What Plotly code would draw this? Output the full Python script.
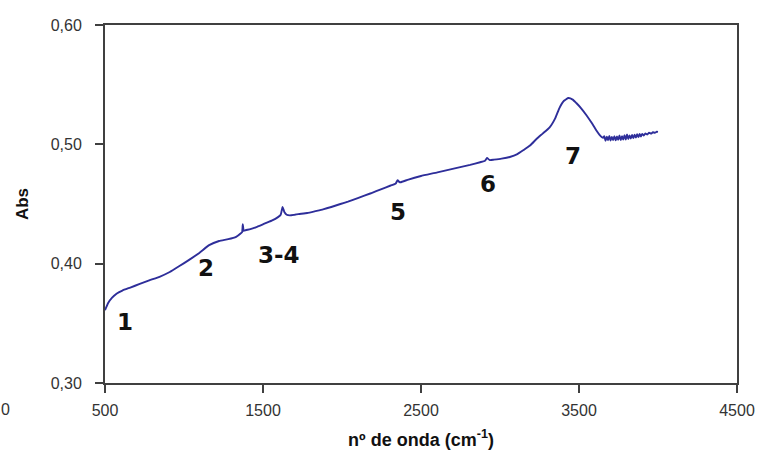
import plotly.graph_objects as go

# FTIR spectrum: wavenumber (cm-1) vs absorbance
wavenumber = [500, 520, 545, 575, 610, 660, 720, 780, 845, 910, 971, 1030, 1097, 1159,
              1222, 1280, 1330, 1360, 1368, 1372, 1378, 1390, 1420, 1454, 1500, 1555,
              1595, 1612, 1624, 1636, 1650, 1670, 1700, 1724, 1780, 1831, 1880, 1932,
              1990, 2038, 2100, 2183, 2250, 2308, 2340, 2352, 2362, 2371, 2420, 2500,
              2604, 2700, 2811, 2874, 2905, 2918, 2935, 2962, 3010, 3062, 3110, 3150,
              3190, 3231, 3270, 3313, 3350, 3376, 3405, 3433, 3460, 3483, 3515, 3546,
              3580, 3608, 3630, 3652,
              3660, 3668, 3676, 3684, 3692, 3700, 3708, 3716, 3724, 3732, 3740, 3748,
              3756, 3764, 3772, 3780, 3788, 3796, 3804, 3812, 3820, 3828, 3836, 3844,
              3852, 3860, 3868, 3876, 3884, 3892, 3900, 3910, 3920, 3932, 3944, 3956,
              3968, 3980, 3992, 4000]
absorbance = [0.361, 0.367, 0.3715, 0.375, 0.3775, 0.380, 0.383, 0.386, 0.389, 0.393,
              0.398, 0.403, 0.409, 0.4155, 0.419, 0.4205, 0.4225, 0.4255, 0.4265, 0.433,
              0.4275, 0.428, 0.429, 0.4305, 0.433, 0.436, 0.439, 0.441, 0.4475, 0.443,
              0.441, 0.4405, 0.441, 0.4415, 0.4425, 0.444, 0.4455, 0.4475, 0.450, 0.452,
              0.455, 0.459, 0.4625, 0.4655, 0.4672, 0.4700, 0.4685, 0.4682, 0.4705,
              0.4735, 0.4765, 0.4795, 0.4828, 0.485, 0.4862, 0.4885, 0.4868, 0.4872,
              0.488, 0.4894, 0.4918, 0.4953, 0.4990, 0.5045, 0.509, 0.514, 0.522,
              0.5304, 0.5365, 0.5388, 0.5375, 0.5346, 0.530, 0.5246, 0.518, 0.512,
              0.508, 0.5055,
              0.5068, 0.5030, 0.5064, 0.5034, 0.5070, 0.5032, 0.5062, 0.5036, 0.5068,
              0.5034, 0.5066, 0.5038, 0.5074, 0.5036, 0.5068, 0.5040, 0.5076, 0.5040,
              0.5082, 0.5044, 0.5074, 0.5048, 0.5078, 0.5052, 0.5080, 0.5056, 0.5084,
              0.5060, 0.5086, 0.5066, 0.5088, 0.5074, 0.5092, 0.5082, 0.5097, 0.5090,
              0.5101, 0.5097, 0.5105, 0.5104]

# Band labels and their positions
band_labels = ["1", "2", "3-4", "5", "6", "7"]
band_x = [626, 1141, 1600, 2355, 2926, 3462]
band_y = [0.3511, 0.3967, 0.4072, 0.4433, 0.4668, 0.4903]

x_ticks = [500, 1500, 2500, 3500, 4500]
y_ticks = [0.30, 0.40, 0.50, 0.60]

fig = go.Figure()
fig.add_trace(go.Scatter(
    x=wavenumber, y=absorbance, mode="lines",
    line=dict(color="#2E2E9A", width=1.9, shape="spline", smoothing=0.4),
    showlegend=False, hoverinfo="skip",
))

for t, bx, by in zip(band_labels, band_x, band_y):
    fig.add_annotation(x=bx, y=by, text=f"<b>{t}</b>", showarrow=False,
                       font=dict(family="DejaVu Sans", size=23, color="#111111"),
                       xanchor="center", yanchor="middle")

# stray tick label left of the axis
fig.add_annotation(xref="paper", yref="paper", x=-0.158, y=-0.075, text="0",
                   showarrow=False, xanchor="center", yanchor="middle",
                   font=dict(family="Liberation Sans", size=16, color="#333333"))

axis_common = dict(
    showline=True, linecolor="#404040", linewidth=2, mirror=True,
    ticks="outside", ticklen=8, tickwidth=2, tickcolor="#404040",
    showgrid=False, zeroline=False,
    tickfont=dict(family="Liberation Sans", size=16, color="#333333"),
)

fig.update_xaxes(range=[500, 4500], tickvals=x_ticks,
                 ticktext=[str(v) for v in x_ticks],
                 ticklabelstandoff=4,
                 title=dict(text="<b>nº de onda (cm<sup>-1</sup>)</b>",
                            font=dict(family="Liberation Sans", size=18, color="#111111"),
                            standoff=15),
                 **axis_common)
fig.update_yaxes(range=[0.30, 0.60], tickvals=y_ticks,
                 ticktext=[f"{v:.2f}".replace(".", ",") for v in y_ticks],
                 ticklabelstandoff=10,
                 title=dict(text="<b>Abs</b>",
                            font=dict(family="Liberation Sans", size=17, color="#111111"),
                            standoff=18),
                 **axis_common)

fig.update_layout(
    width=767, height=460,
    margin=dict(l=105, r=23, t=25, b=77),
    paper_bgcolor="white", plot_bgcolor="white",
)

fig.write_html("out.html")
